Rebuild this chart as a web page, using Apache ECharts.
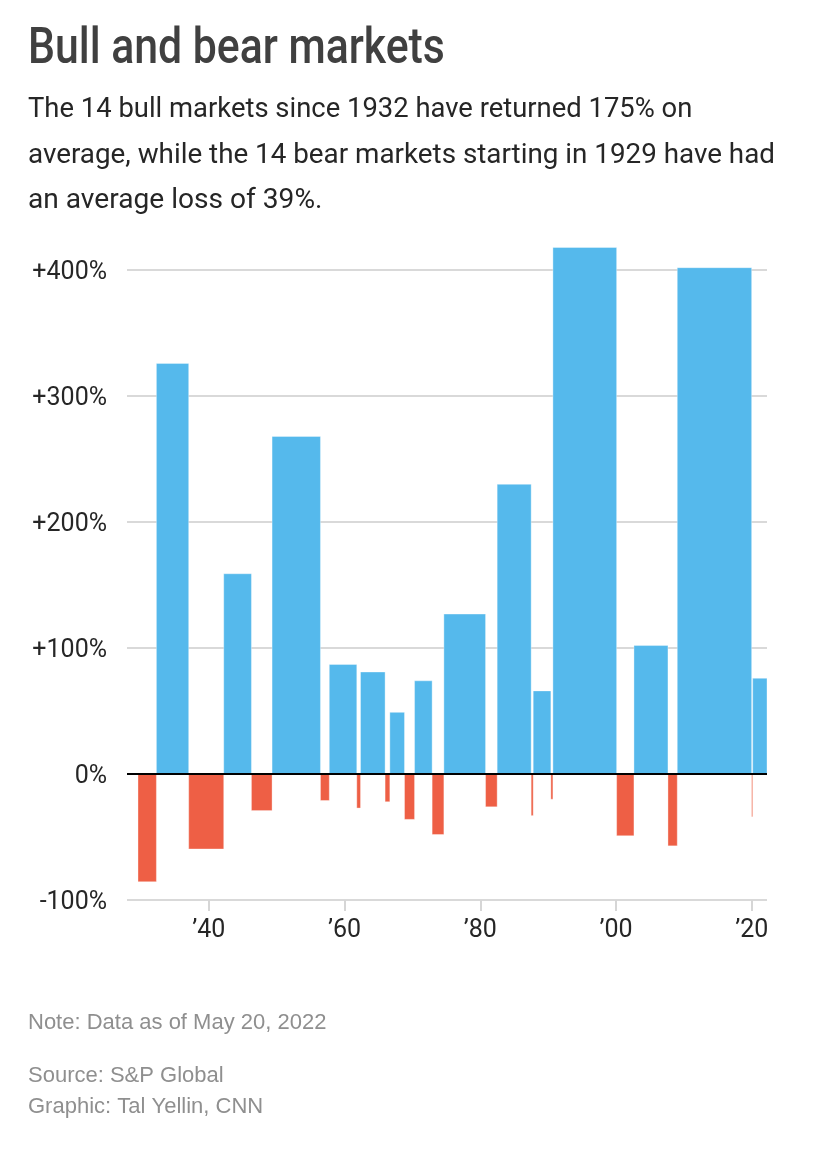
<!DOCTYPE html>
<html>
<head>
<meta charset="utf-8">
<title>Bull and bear markets</title>
<style>
  html, body { margin: 0; padding: 0; background: #fff; }
  #chart { width: 816px; height: 1154px; }
</style>
<script src="https://cdn.jsdelivr.net/npm/echarts@6/dist/echarts.min.js"></script>
</head>
<body>
<div id="chart"></div>
<script>
// Each market runs from its start year to its end year, in date order
var marketStarts = [1929.58, 1932.29, 1937.05, 1942.21, 1946.29, 1949.33, 1956.46, 1957.76, 1961.81, 1962.36,
    1965.98, 1966.68, 1968.84, 1970.32, 1972.91, 1974.64, 1980.78, 1982.49, 1987.50, 1987.80,
    1990.40, 1990.70, 2000.09, 2002.64, 2007.65, 2009.02, 2019.98, 2020.13];
var marketEnds = [1932.29, 1937.05, 1942.21, 1946.29, 1949.33, 1956.46, 1957.76, 1961.81, 1962.36, 1965.98,
    1966.68, 1968.84, 1970.32, 1972.91, 1974.64, 1980.78, 1982.49, 1987.50, 1987.80, 1990.40,
    1990.70, 2000.09, 2002.64, 2007.65, 2009.02, 2019.98, 2020.13, 2022.24];
var marketReturns = [-85.5, 326, -59.5, 159, -29, 268, -21, 87, -27, 81,
    -22, 49, -36, 74, -48, 127, -26, 230, -33, 66,
    -20, 418, -49, 102, -57, 402, -34, 76];

var xTickYears = [1940, 1960, 1980, 2000, 2020];
var yTickValues = [-100, 0, 100, 200, 300, 400];

var titleText = 'Bull and bear markets';
var subtitleLines = [
    { text: 'The 14 bull markets since 1932 have returned 175% on', y: 96, scaleX: 0.979 },
    { text: 'average, while the 14 bear markets starting in 1929 have had', y: 141.5, scaleX: 0.993 },
    { text: 'an average loss of 39%.', y: 187, scaleX: 1.004 }
];
var noteLines = [
    { text: 'Note: Data as of May 20, 2022', y: 1012 },
    { text: 'Source: S&P Global', y: 1065 },
    { text: 'Graphic: Tal Yellin, CNN', y: 1096 }
];

var BLUE = '#55b9ec';
var RED = '#ee5f45';

var rows = marketReturns.map(function (value, i) {
    return [marketStarts[i], marketEnds[i], value];
});

var graphics = [{
    type: 'text', x: 28, y: 25, scaleX: 0.855,
    style: { text: titleText, font: '500 50px Roboto', fill: '#404040' }
}];
subtitleLines.forEach(function (line) {
    graphics.push({
        type: 'text', x: 28, y: line.y, scaleX: line.scaleX,
        style: { text: line.text, font: '28px Roboto', fill: '#262626' }
    });
});
noteLines.forEach(function (line) {
    graphics.push({
        type: 'text', x: 28, y: line.y,
        style: { text: line.text, font: '22px "Liberation Sans"', fill: '#8f8f8f' }
    });
});

function renderMarket(params, api) {
    var value = api.value(2);
    var topLeft = api.coord([api.value(0), Math.max(value, 0)]);
    var bottomRight = api.coord([api.value(1), Math.min(value, 0)]);
    return {
        type: 'rect',
        shape: {
            x: topLeft[0],
            y: topLeft[1],
            width: bottomRight[0] - topLeft[0],
            height: bottomRight[1] - topLeft[1]
        },
        style: {
            fill: value > 0 ? BLUE : RED,
            stroke: 'rgba(255,255,255,0.35)',
            lineWidth: 1
        }
    };
}

var chart = echarts.init(document.getElementById('chart'));
chart.setOption({
    animation: false,
    backgroundColor: '#fff',
    graphic: graphics,
    grid: { left: 127, right: 49, top: 245, height: 655, containLabel: false },
    xAxis: {
        type: 'value',
        min: 1927.96,
        max: 2022.24,
        splitLine: { show: false },
        axisLine: { show: false, onZero: false },
        axisTick: {
            show: true,
            customValues: xTickYears,
            length: 11,
            lineStyle: { color: '#d6d6d6', width: 2 }
        },
        axisLabel: {
            customValues: xTickYears,
            margin: 18,
            fontFamily: 'Roboto',
            fontSize: 25,
            color: '#262626',
            formatter: function (year) {
                return '\u2019' + String(year).slice(2);
            }
        }
    },
    yAxis: {
        type: 'value',
        min: -100,
        max: 420,
        axisLine: { show: false },
        axisTick: { show: false, customValues: yTickValues },
        splitLine: { show: true, lineStyle: { color: '#d9d9d9', width: 2 } },
        axisLabel: {
            customValues: yTickValues,
            margin: 20,
            formatter: function (value) {
                return '{v|' + (value > 0 ? '+' : '') + value + '%}';
            },
            rich: {
                // padding nudges the labels down onto the gridlines
                v: { padding: [6, 0, 0, 0], fontFamily: 'Roboto', fontSize: 25, color: '#262626' }
            }
        }
    },
    series: [{
        type: 'custom',
        renderItem: renderMarket,
        encode: { x: [0, 1], y: 2 },
        data: rows,
        markLine: {
            silent: true,
            symbol: 'none',
            label: { show: false },
            lineStyle: { color: '#000', width: 2, type: 'solid' },
            data: [{ yAxis: 0 }]
        }
    }]
});
</script>
</body>
</html>
